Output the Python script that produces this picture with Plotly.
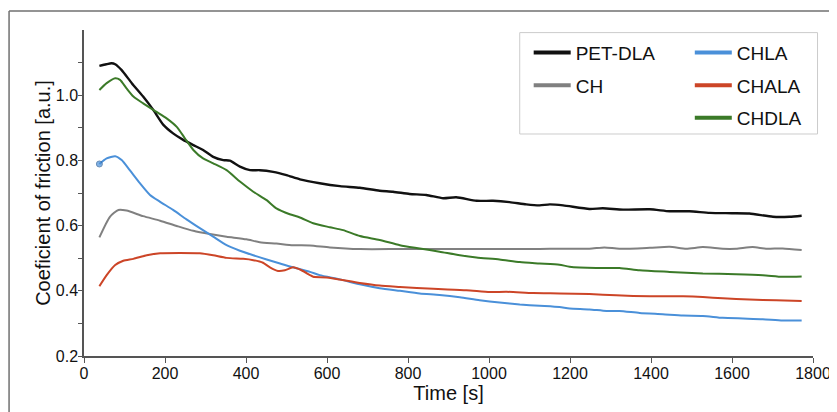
import plotly.graph_objects as go

# ---- data ----
pet_t = [38, 55, 68, 77, 93, 118, 146, 171, 196, 220, 245, 270, 294, 319, 344, 360, 385, 410, 434, 467,
         500, 533, 582, 632, 681, 730, 763, 804, 845, 887, 919, 969, 1010, 1051, 1092, 1125, 1150, 1183,
         1248, 1281, 1331, 1397, 1446, 1495, 1545, 1600, 1643, 1701, 1742, 1772]
pet_v = [1.090, 1.095, 1.098, 1.095, 1.077, 1.037, 0.996, 0.955, 0.909, 0.883, 0.863, 0.847, 0.832, 0.811,
         0.801, 0.799, 0.781, 0.770, 0.770, 0.765, 0.755, 0.742, 0.730, 0.721, 0.716, 0.707, 0.704, 0.697,
         0.694, 0.684, 0.687, 0.676, 0.676, 0.672, 0.665, 0.662, 0.665, 0.662, 0.651, 0.653, 0.649, 0.650,
         0.644, 0.644, 0.639, 0.638, 0.637, 0.627, 0.627, 0.630]

ch_t = [38, 64, 85, 105, 146, 188, 229, 270, 311, 352, 401, 434, 475, 516, 558, 607, 681, 780, 900, 1000,
        1100, 1150, 1248, 1285, 1322, 1397, 1446, 1487, 1528, 1577, 1610, 1651, 1684, 1725, 1772]
ch_v = [0.564, 0.627, 0.648, 0.646, 0.629, 0.615, 0.599, 0.584, 0.574, 0.566, 0.558, 0.549, 0.545, 0.540,
        0.539, 0.533, 0.528, 0.528, 0.528, 0.528, 0.528, 0.529, 0.529, 0.533, 0.529, 0.532, 0.535, 0.529,
        0.534, 0.529, 0.529, 0.534, 0.529, 0.530, 0.525]

chla_t = [38, 56, 77, 93, 113, 138, 163, 188, 220, 253, 286, 319, 352, 385, 418, 451, 484, 516, 558, 582,
          632, 681, 730, 780, 829, 878, 928, 977, 1026, 1076, 1125, 1174, 1199, 1248, 1290, 1322, 1372,
          1429, 1479, 1528, 1577, 1627, 1676, 1725, 1772]
chla_v = [0.789, 0.806, 0.813, 0.801, 0.770, 0.730, 0.694, 0.673, 0.648, 0.619, 0.592, 0.566, 0.540, 0.523,
          0.509, 0.496, 0.484, 0.472, 0.458, 0.448, 0.435, 0.420, 0.408, 0.400, 0.392, 0.387, 0.380, 0.371,
          0.364, 0.358, 0.354, 0.350, 0.346, 0.343, 0.338, 0.338, 0.332, 0.328, 0.324, 0.323, 0.317, 0.315,
          0.313, 0.309, 0.309]

chala_t = [38, 56, 77, 97, 122, 155, 188, 237, 286, 319, 352, 393, 418, 442, 459, 479, 496, 516, 537, 558,
           566, 599, 681, 730, 780, 862, 944, 1002, 1043, 1109, 1174, 1248, 1314, 1397, 1479, 1528, 1577,
           1643, 1709, 1772]
chala_v = [0.414, 0.448, 0.479, 0.492, 0.498, 0.509, 0.515, 0.516, 0.515, 0.509, 0.501, 0.498, 0.494, 0.486,
           0.472, 0.461, 0.463, 0.472, 0.463, 0.448, 0.443, 0.441, 0.424, 0.416, 0.412, 0.406, 0.402, 0.396,
           0.397, 0.393, 0.392, 0.390, 0.386, 0.383, 0.383, 0.381, 0.377, 0.373, 0.371, 0.369]

chdla_t = [38, 56, 77, 89, 105, 122, 146, 179, 204, 229, 249, 270, 294, 319, 352, 385, 418, 451, 475, 508,
           533, 566, 607, 640, 681, 730, 780, 829, 878, 928, 969, 1026, 1076, 1125, 1174, 1199, 1265, 1322,
           1372, 1446, 1528, 1610, 1676, 1725, 1772]
chdla_v = [1.016, 1.037, 1.052, 1.047, 1.021, 0.996, 0.975, 0.949, 0.929, 0.903, 0.868, 0.832, 0.806, 0.791,
           0.770, 0.735, 0.704, 0.678, 0.653, 0.635, 0.625, 0.607, 0.595, 0.586, 0.568, 0.556, 0.540, 0.530,
           0.520, 0.509, 0.502, 0.496, 0.488, 0.484, 0.480, 0.474, 0.470, 0.470, 0.463, 0.458, 0.453, 0.451,
           0.448, 0.443, 0.444]

x_ticks = [0, 200, 400, 600, 800, 1000, 1200, 1400, 1600, 1800]
y_ticks = [0.2, 0.4, 0.6, 0.8, 1.0]
y_minor = [0.3, 0.5, 0.7, 0.9, 1.1]

series = [
    ("PET-DLA", pet_t, pet_v, "#111111", 2.4, "legend"),
    ("CH", ch_t, ch_v, "#808080", 2.0, "legend"),
    ("CHLA", chla_t, chla_v, "#4a90d9", 2.0, "legend2"),
    ("CHALA", chala_t, chala_v, "#cc4527", 2.0, "legend2"),
    ("CHDLA", chdla_t, chdla_v, "#3b7a28", 2.0, "legend2"),
]

fig = go.Figure()
for name, t, v, col, w, lg in series:
    if name == "CHLA":
        sizes = [6] + [0] * (len(t) - 1)
        fig.add_trace(go.Scatter(x=t, y=v, mode="lines+markers",
                                 line=dict(color=col, width=w, shape="spline", smoothing=0.6),
                                 marker=dict(size=sizes, color=col, line=dict(color="#2b5f99", width=1)),
                                 showlegend=False, name=name))
    else:
        fig.add_trace(go.Scatter(x=t, y=v, mode="lines",
                                 line=dict(color=col, width=w, shape="spline", smoothing=0.6),
                                 showlegend=False, name=name))
# legend-only entries
for name, t, v, col, w, lg in series:
    fig.add_trace(go.Scatter(x=[None], y=[None], mode="lines", line=dict(color=col, width=4),
                             name=name, legend=lg, legendgroup=name, showlegend=True))

axis_col = "#555555"
font_fam = "Liberation Sans, Arial, sans-serif"

leg_common = dict(bgcolor="rgba(0,0,0,0)", borderwidth=0, font=dict(size=19, color="#111111", family=font_fam),
                  tracegroupgap=5, itemwidth=37, yanchor="top", xanchor="left", orientation="v",
                  traceorder="grouped")

# the page body adds an 8px offset, so the figure is 8px smaller than the window
fig.update_layout(
    width=829, height=404,
    margin=dict(l=76, r=23.5, t=22, b=56),
    paper_bgcolor="white", plot_bgcolor="white",
    font=dict(family=font_fam, color="#111111"),
    legend=dict(x=0.610, y=0.989, **leg_common),
    legend2=dict(x=0.831, y=0.989, **leg_common),
    xaxis=dict(range=[0, 1800], tickvals=x_ticks, ticks="outside", ticklen=5, tickwidth=1.3, tickcolor=axis_col,
               showline=True, linecolor=axis_col, linewidth=1.5, showgrid=False, zeroline=False,
               automargin=False, ticklabelstandoff=-3, tickfont=dict(size=16, color="#111111"),
               title=dict(text="Time [s]", font=dict(size=20, color="#111111"), standoff=0)),
    yaxis=dict(range=[0.2, 1.2], tickvals=y_ticks, ticktext=["0.2", "0.4", "0.6", "0.8", "1.0"],
               ticks="outside", ticklen=4, tickwidth=1.3, tickcolor=axis_col,
               minor=dict(tickvals=y_minor, ticks="outside", ticklen=4, tickwidth=1.3, tickcolor=axis_col,
                          showgrid=False),
               showline=True, linecolor=axis_col, linewidth=1.5, showgrid=False, zeroline=False,
               automargin=False, ticklabelstandoff=-3, tickfont=dict(size=16, color="#111111"),
               title=dict(text="Coeficient of friction [a.u.]", font=dict(size=20, color="#111111"), standoff=0)),
    shapes=[
        dict(type="rect", xref="paper", yref="paper", x0=0.5977, x1=1.0062, y0=0.681, y1=0.992,
             line=dict(color="#cccccc", width=1), fillcolor="white", layer="below"),
        dict(type="line", xref="paper", yref="paper", x0=-0.1028, x1=1.1, y0=1.058, y1=1.058,
             line=dict(color="#707070", width=1.5)),
        dict(type="line", xref="paper", yref="paper", x0=-0.1028, x1=-0.1028, y0=-0.3, y1=1.058,
             line=dict(color="#707070", width=1.5)),
    ],
)

fig.write_html("out.html")
